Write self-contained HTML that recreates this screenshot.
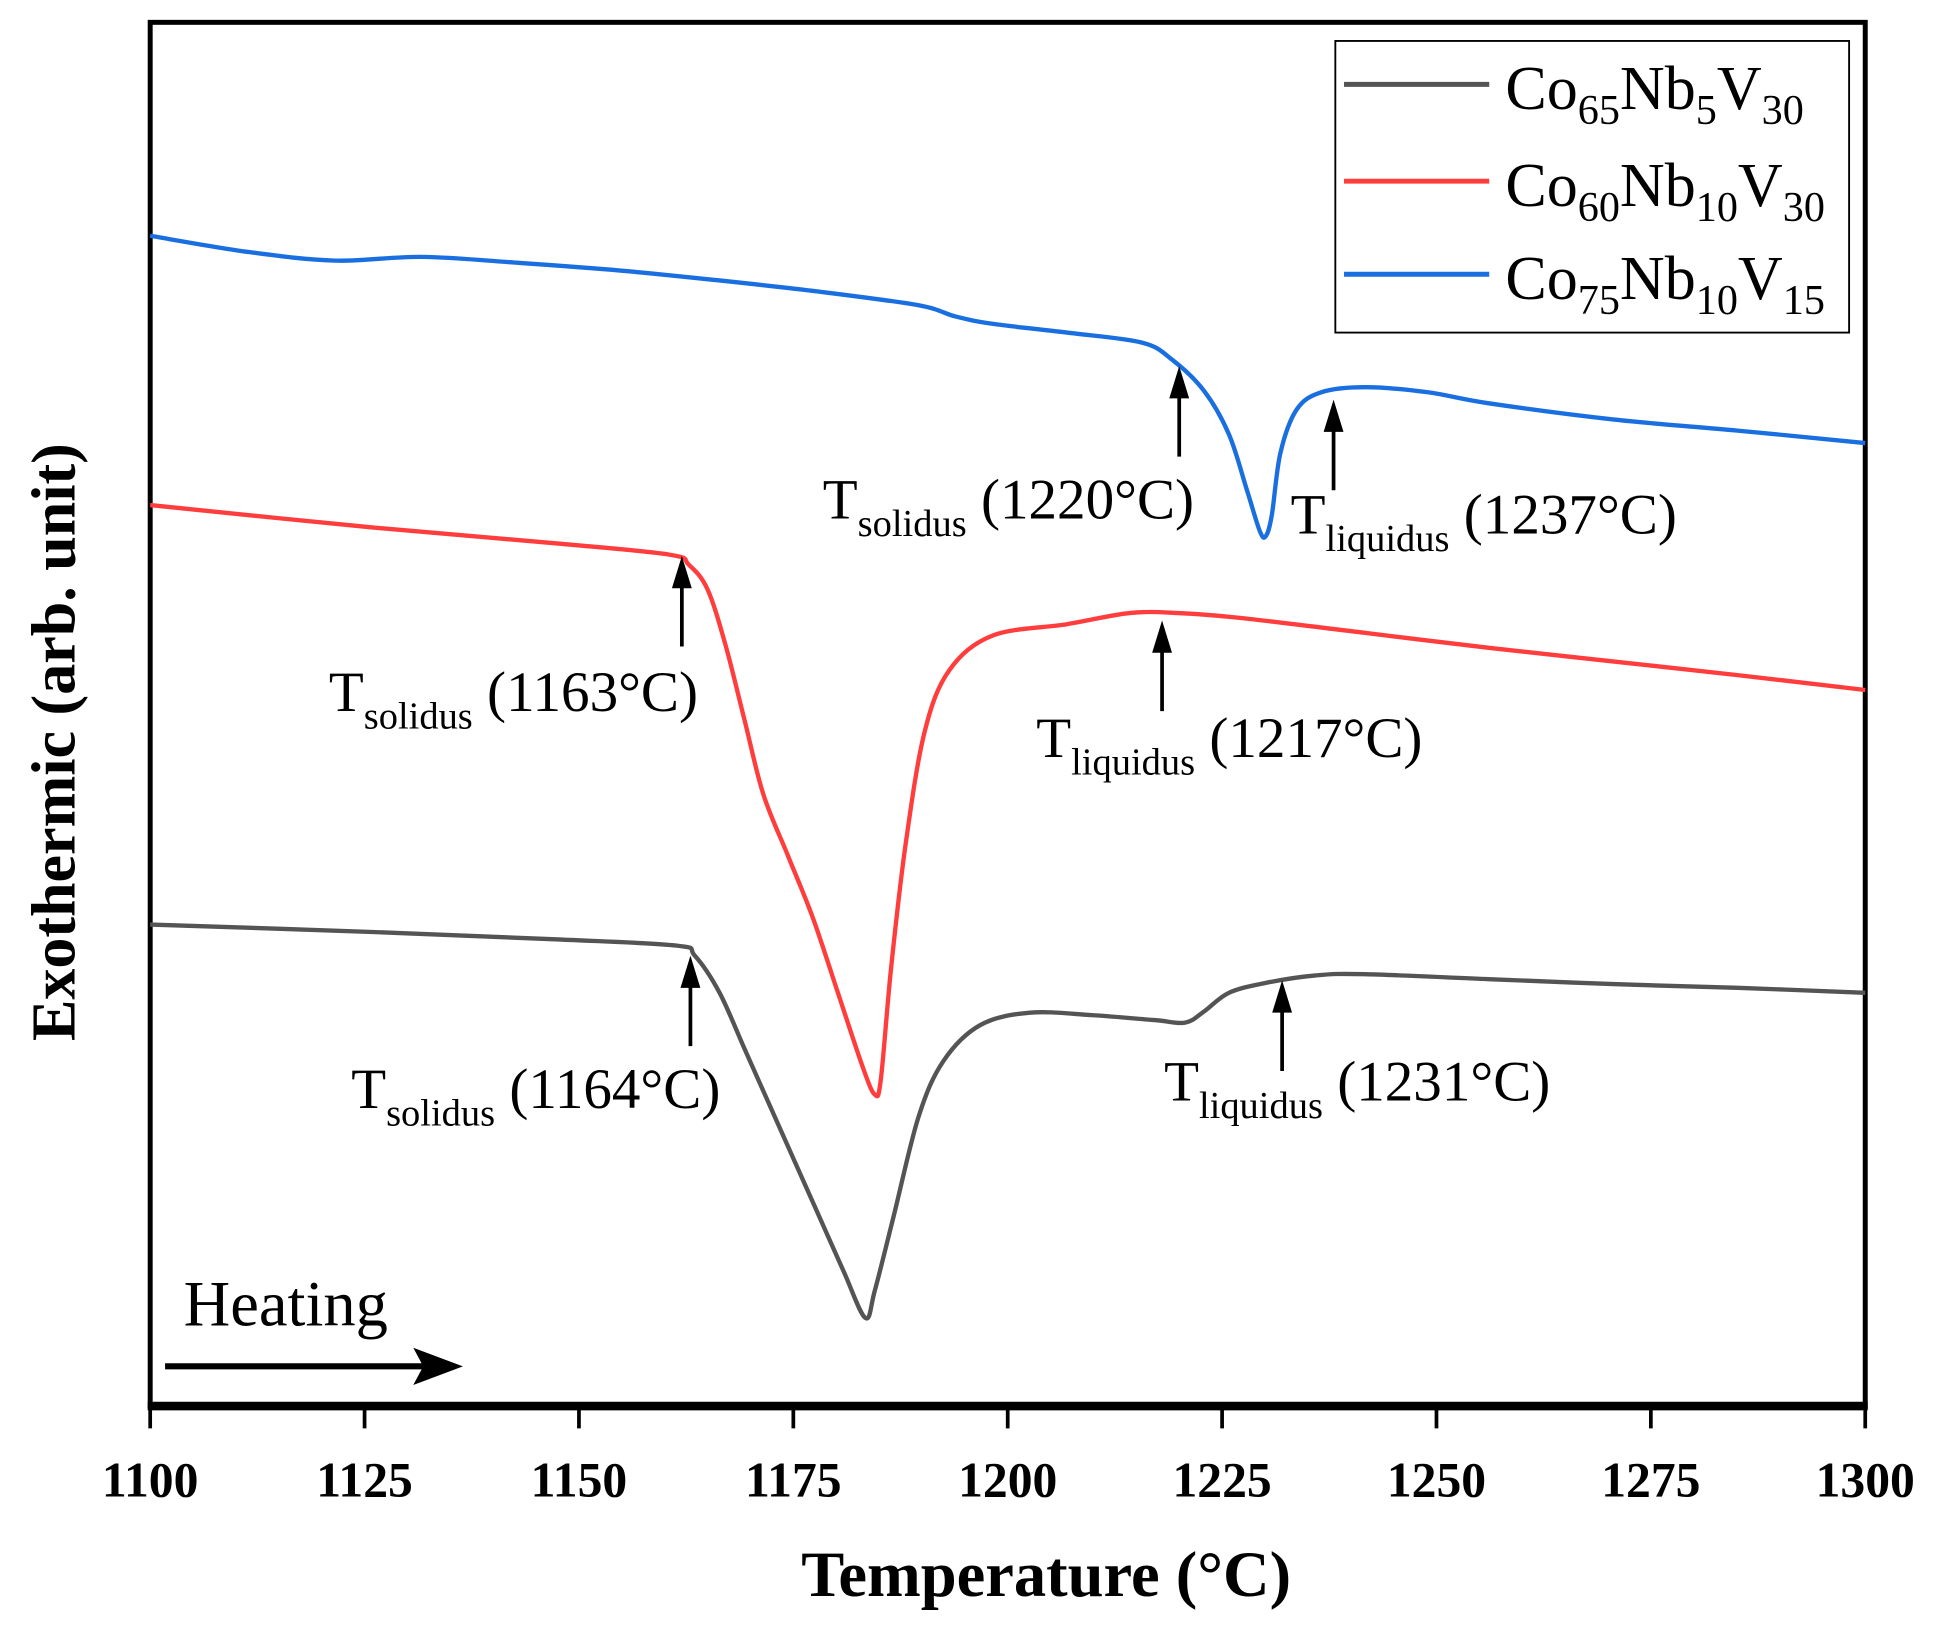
<!DOCTYPE html>
<html><head><meta charset="utf-8"><style>
html,body{margin:0;padding:0;background:#fff}
svg{display:block;font-family:"Liberation Serif","DejaVu Serif",serif}
</style></head><body>
<svg id="chart" width="1936" height="1636" viewBox="0 0 1560 1318.3" xmlns="http://www.w3.org/2000/svg">
<g id="plot"></g>
</svg>
<script>
// ---- data ----
const xTicks = [1100,1125,1150,1175,1200,1225,1250,1275,1300];
const grayT = [1100,1125.9,1147.6,1161.4,1163.5,1166.4,1169.3,1172.2,1175.1,1178,1180.9,1183.4,1184.5,1186.7,1189.6,1192.5,1196.8,1202.6,1209.8,1217.1,1220.7,1222.9,1225.8,1230.1,1235.9,1241.7,1256.1,1270.6,1285.1,1300];
const grayV = [388,382,376,371,363,333,288,243,198,153,108,71,93,153,233,278,307,317,315,311,309,318,333,341,347,348,344,340,337,333];
const redT = [1100,1125.9,1147.6,1160.6,1162.8,1165,1167.1,1169.3,1171.5,1174.4,1177.3,1180.2,1183.1,1184.5,1185.2,1186.4,1188.1,1190.3,1193.2,1198.3,1206.9,1214.2,1219.9,1227.2,1241.7,1256.1,1270.6,1285.1,1300];
const redV = [726,708,695,686,678,658,613,553,493,443,393,333,273,251,263,353,453,543,593,621,630,639,639,635,623,611,600,589,577];
const blueT = [1100,1111.4,1121.6,1131.7,1143.3,1154.8,1166.4,1178,1189.6,1193.9,1198.3,1206.9,1215.6,1219.2,1222.9,1225.8,1227.9,1229.4,1230.1,1230.8,1231.8,1233.7,1236.6,1241.7,1248.9,1256.1,1270.6,1285.1,1300];
const blueV = [943,930,923,926,921,915,907,898,887,878,872,865,857,843,818,783,738,705,701,718,768,803,817,821,817,808,795,786,776];
const annT = [1220,1238,1162,1218,1163,1232];
const annV = [838,811,685,633,363,343];
const annLabel = ["1220","1237","1163","1217","1164","1231"];
const annKind = ["solidus","liquidus","solidus","liquidus","solidus","liquidus"];

// ---- axes ----
const X0=121,X1=1503,Y0=1133,YT=18;
const xs = t => X0 + (t-1100)/(200)*(X1-X0);
const ys = v => Y0 - v;
const NS="http://www.w3.org/2000/svg";
const g=document.getElementById('plot');
function el(tag,attrs,parent){const e=document.createElementNS(NS,tag);for(const k in attrs)e.setAttribute(k,attrs[k]);(parent||g).appendChild(e);return e;}

const fr=el('rect',{x:X0,y:YT,width:X1-X0,height:Y0-YT,fill:'none',stroke:'#000','stroke-width':4});


const xa=el('line',{x1:X0-2,y1:Y0,x2:X1+2,y2:Y0,stroke:'#000','stroke-width':7});



xTicks.forEach(t=>{
  const tk=el('line',{x1:xs(t),y1:Y0,x2:xs(t),y2:Y0+18,stroke:'#000','stroke-width':3});
  
  
  const tl=el('text',{x:xs(t),y:1206,'text-anchor':'middle','font-size':40,'font-weight':'bold'});
  tl.textContent=t;
  
  
});
const xt=el('text',{x:843,y:1286,'text-anchor':'middle','font-size':52,'font-weight':'bold'});
xt.textContent='Temperature (°C)';


const yt=el('text',{x:0,y:0,'text-anchor':'middle','font-size':50,'font-weight':'bold',transform:'translate(60,598) rotate(-90)'});
yt.textContent='Exothermic (arb. unit)';



function pathFrom(T,V){
  const p=T.map((t,i)=>[xs(t),ys(V[i])]);
  let d='M'+p[0][0]+','+p[0][1];
  for(let i=0;i<p.length-1;i++){
    const p0=p[i-1]||p[i],p1=p[i],p2=p[i+1],p3=p[i+2]||p2;
    const c1=[p1[0]+(p2[0]-p0[0])/6,p1[1]+(p2[1]-p0[1])/6];
    const c2=[p2[0]-(p3[0]-p1[0])/6,p2[1]-(p3[1]-p1[1])/6];
    d+=' C'+c1+' '+c2+' '+p2;
  }
  return d;
}
const s1=el('path',{d:pathFrom(grayT,grayV),fill:'none',stroke:'#545454','stroke-width':3.5,'stroke-linejoin':'round'});


const s2=el('path',{d:pathFrom(redT,redV),fill:'none',stroke:'#ff3d3d','stroke-width':3.5,'stroke-linejoin':'round'});


const s3=el('path',{d:pathFrom(blueT,blueV),fill:'none',stroke:'#1a6fe0','stroke-width':3.5,'stroke-linejoin':'round'});



// annotation label layout (pixel positions, not data)
const labelPos=[[663,418],[1040,430],[265,573],[835,610],[283,893],[938,887]];
annT.forEach((t,i)=>{
  const x=xs(t),yTop=ys(annV[i]);
  const a=el('g',{});
  
  
  el('line',{x1:x,y1:yTop+20,x2:x,y2:yTop+73,stroke:'#000','stroke-width':3},a);
  el('polygon',{points:`${x},${yTop} ${x-8},${yTop+26} ${x+8},${yTop+26}`,fill:'#000'},a);
  const tx=el('text',{x:labelPos[i][0],y:labelPos[i][1],'font-size':46,'textLength':0});
  tx.removeAttribute('textLength');
  
  
  const a1=document.createElementNS(NS,'tspan');a1.textContent='T';tx.appendChild(a1);
  const a2=document.createElementNS(NS,'tspan');a2.setAttribute('font-size',31);a2.setAttribute('dy',14);a2.textContent=annKind[i];tx.appendChild(a2);
  const a3=document.createElementNS(NS,'tspan');a3.setAttribute('dy',-14);a3.textContent=' ('+annLabel[i]+'°C)';tx.appendChild(a3);
});

const ht=el('text',{x:148,y:1068,'font-size':52});
ht.textContent='Heating';


const ha=el('g',{});


el('line',{x1:133,y1:1101,x2:350,y2:1101,stroke:'#000','stroke-width':5},ha);
el('polygon',{points:'373,1101 333,1086 341,1101 333,1116',fill:'#000'},ha);

const leg=el('g',{});


el('rect',{x:1076,y:33,width:414,height:235,fill:'#fff',stroke:'#000','stroke-width':1.5},leg);
const legC=['#545454','#ff3d3d','#1a6fe0'];
const legN=[['65','5','30'],['60','10','30'],['75','10','15']];
const legY=[68,146,221];
legN.forEach((n,i)=>{
  const e=el('g',{},leg);
  
  
  el('line',{x1:1083,y1:legY[i],x2:1200,y2:legY[i],stroke:legC[i],'stroke-width':4},e);
  const t=el('text',{x:1213,y:legY[i]+20,'font-size':50},e);
  const parts=[['Co',0],[n[0],1],['Nb',0],[n[1],1],['V',0],[n[2],1]];
  let sub=false;
  parts.forEach(([s,isSub])=>{
    const sp=document.createElementNS(NS,'tspan');
    if(isSub){sp.setAttribute('font-size',34);if(!sub)sp.setAttribute('dy',12);sub=true;}
    else{if(sub)sp.setAttribute('dy',-12);sub=false;}
    sp.textContent=s;t.appendChild(sp);
  });
});
</script>
</body></html>
